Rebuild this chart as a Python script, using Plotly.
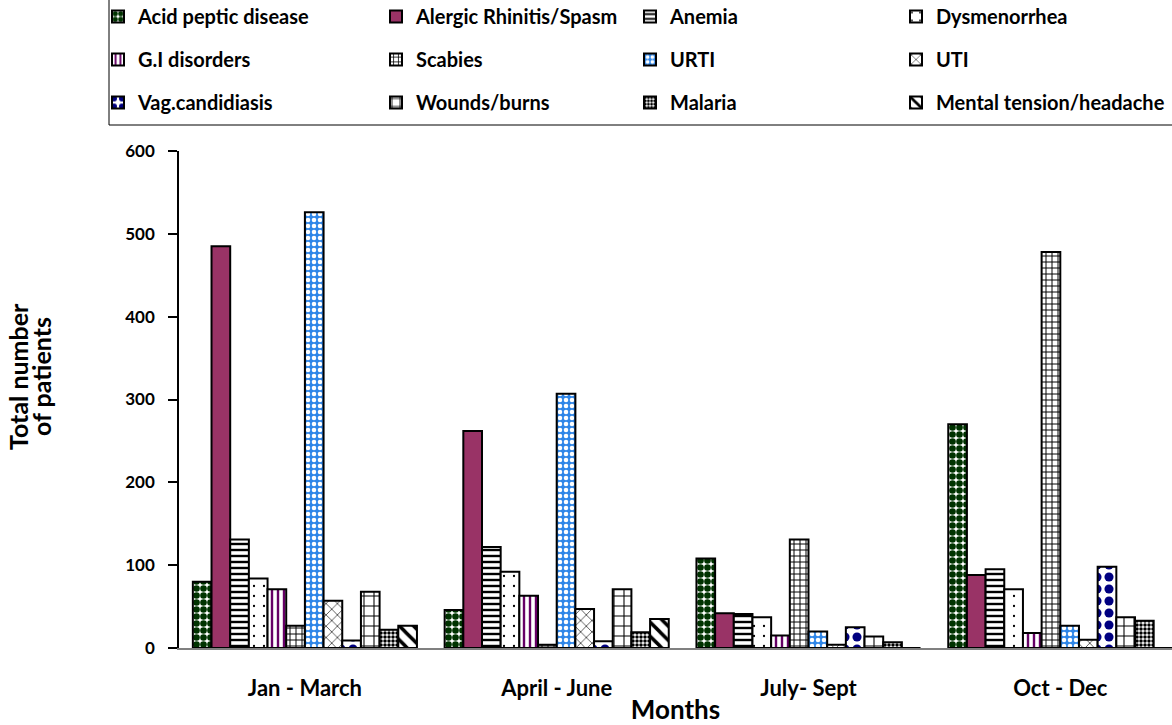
import plotly.graph_objects as go

# Quarterly patient counts per disease category
quarters = ["Jan - March", "April - June", "July- Sept", "Oct - Dec"]

acid_peptic = [80, 46, 108, 270]
alergic_rhinitis = [485, 262, 42, 88]
anemia = [131, 122, 41, 95]
dysmenorrhea = [84, 92, 37, 71]
gi_disorders = [71, 63, 15, 18]
scabies = [27, 4, 131, 478]
urti = [526, 307, 20, 27]
uti = [57, 47, 4, 10]
vag_candidiasis = [9, 8, 25, 98]
wounds_burns = [68, 71, 14, 37]
malaria = [22, 19, 7, 33]
mental_tension = [27, 35, 0, 0]

series = [
    ("Acid peptic disease", acid_peptic),
    ("Alergic Rhinitis/Spasm", alergic_rhinitis),
    ("Anemia", anemia),
    ("Dysmenorrhea", dysmenorrhea),
    ("G.I disorders", gi_disorders),
    ("Scabies", scabies),
    ("URTI", urti),
    ("UTI", uti),
    ("Vag.candidiasis", vag_candidiasis),
    ("Wounds/burns", wounds_burns),
    ("Malaria", malaria),
    ("Mental tension/headache", mental_tension),
]

# fill style per series: (bar colour, pattern shape, pattern colour, size, solidity)
styles = [
    ("white", ".", "#003300", 7, 0.7),
    ("#993366", "", None, None, None),
    ("white", "-", "black", 6, 0.4),
    ("white", ".", "black", 10, 0.04),
    ("white", "|", "#660066", 6, 0.4),
    ("white", "+", "black", 6, 0.3),
    ("#2F86E8", ".", "white", 6, 0.45),
    ("white", "x", "black", 8, 0.15),
    ("white", ".", "#000080", 12, 0.45),
    ("white", "+", "black", 10, 0.2),
    ("white", ".", "black", 4, 0.6),
    ("white", "\\", "black", 10, 0.35),
]

FONT = "Lato"

# plot-area geometry in pixels (used to place the legend columns and titles)
PLOT_L, PLOT_R, PLOT_T, PLOT_B = 179, 1172, 151, 648
PW, PH = PLOT_R - PLOT_L, PLOT_B - PLOT_T


def px_x(px):
    return (px - PLOT_L) / PW


def px_y(py):
    return (PLOT_B - py) / PH


legend_names = ["legend", "legend2", "legend3", "legend4"]

fig = go.Figure()
for i, ((name, vals), (col, shape, fg, size, sol)) in enumerate(zip(series, styles)):
    if shape:
        pattern = dict(shape=shape, fgcolor=fg, bgcolor=col, size=size,
                       solidity=sol, fillmode="replace")
    else:
        pattern = dict(shape="")
    fig.add_trace(go.Bar(
        x=quarters, y=vals, name=name,
        marker=dict(color=col, line=dict(color="black", width=2), pattern=pattern),
        legend=legend_names[i % 4],
        legendgroup=name,
    ))

# legend: four columns, three rows
col_left = [98, 376, 630, 896]
legend_common = dict(
    orientation="v", yanchor="top", xanchor="left",
    bgcolor="rgba(0,0,0,0)", borderwidth=0,
    font=dict(family=FONT, size=20, color="black", weight="bold"),
    traceorder="grouped", tracegroupgap=14,
)
legends = {}
for k, ln in enumerate(legend_names):
    legends[ln] = dict(x=px_x(col_left[k]), y=px_y(-3), **legend_common)

fig.update_layout(
    width=1172, height=725,
    margin=dict(l=PLOT_L, r=1172 - PLOT_R, t=PLOT_T, b=725 - PLOT_B, autoexpand=False),
    paper_bgcolor="white", plot_bgcolor="white",
    barmode="group", bargap=0.11, bargroupgap=0,
    showlegend=True,
    font=dict(family=FONT, color="black"),
    **legends,
)

fig.update_xaxes(
    range=[-0.5, -0.5 + PW / 251.8],
    showline=True, linecolor="#808080", linewidth=2,
    ticks="", showgrid=False, zeroline=False,
    tickfont=dict(family=FONT, size=22, color="black", weight="bold"),
    ticklabelstandoff=20,
    title=dict(text="Months", font=dict(family=FONT, size=26, color="black", weight="bold"),
               standoff=2),
)
fig.update_yaxes(
    range=[0, 600], tickvals=[0, 100, 200, 300, 400, 500, 600],
    showline=True, linecolor="black", linewidth=1.5,
    ticks="outside", ticklen=9, tickwidth=1.5, tickcolor="black",
    showgrid=False, zeroline=False,
    tickfont=dict(family=FONT, size=17, color="black", weight="bold"),
    ticklabelstandoff=10,
)

# legend frame
fig.add_shape(type="rect", xref="paper", yref="paper",
              x0=px_x(109), x1=px_x(1180), y0=px_y(125), y1=px_y(-10),
              line=dict(color="black", width=1), fillcolor="rgba(0,0,0,0)")

# y-axis title, two rotated lines
ytitle_font = dict(family=FONT, size=25, color="black", weight="bold")
fig.add_annotation(text="Total number", xref="paper", yref="paper",
                   x=px_x(18), y=px_y(377), xanchor="center", yanchor="middle",
                   textangle=-90, showarrow=False, font=ytitle_font)
fig.add_annotation(text="of patients", xref="paper", yref="paper",
                   x=px_x(41), y=px_y(377), xanchor="center", yanchor="middle",
                   textangle=-90, showarrow=False, font=ytitle_font)

fig.write_html("out.html")
